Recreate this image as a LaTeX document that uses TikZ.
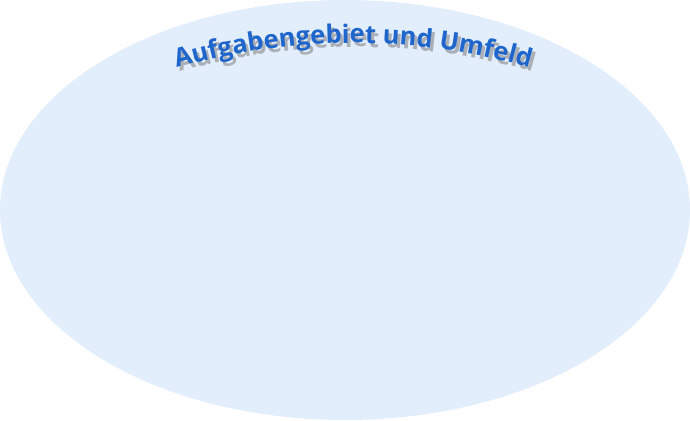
\documentclass[tikz,border=0pt]{standalone}
\usepackage{fontspec}
\setmainfont{Open Sans}
\usetikzlibrary{decorations.text}
\definecolor{ellfill}{HTML}{E3EEFD}
\definecolor{titleblue}{HTML}{1F66CC}
\definecolor{shadowgray}{HTML}{ABAFB6}
\tikzset{
  arctext/.style={decorate, decoration={text along path, text align=center,
    text={|\bfseries\fontsize{25.5}{25.5}\selectfont|Aufgabengebiet und Umfeld}, text color=#1}}
}
\begin{document}
\begin{tikzpicture}[x=1pt,y=1pt]
\useasboundingbox (0,0) rectangle (690,420);
\fill[ellfill] (345,210) ellipse [x radius=345, y radius=210];
\coordinate (cs) at (356,-261);
\coordinate (c) at (353,-257);
\path[arctext=shadowgray] (cs) ++(110:634) arc[start angle=110, end angle=70, radius=634];
\path[arctext=titleblue] (c) ++(110:634) arc[start angle=110, end angle=70, radius=634];
\end{tikzpicture}
\end{document}
